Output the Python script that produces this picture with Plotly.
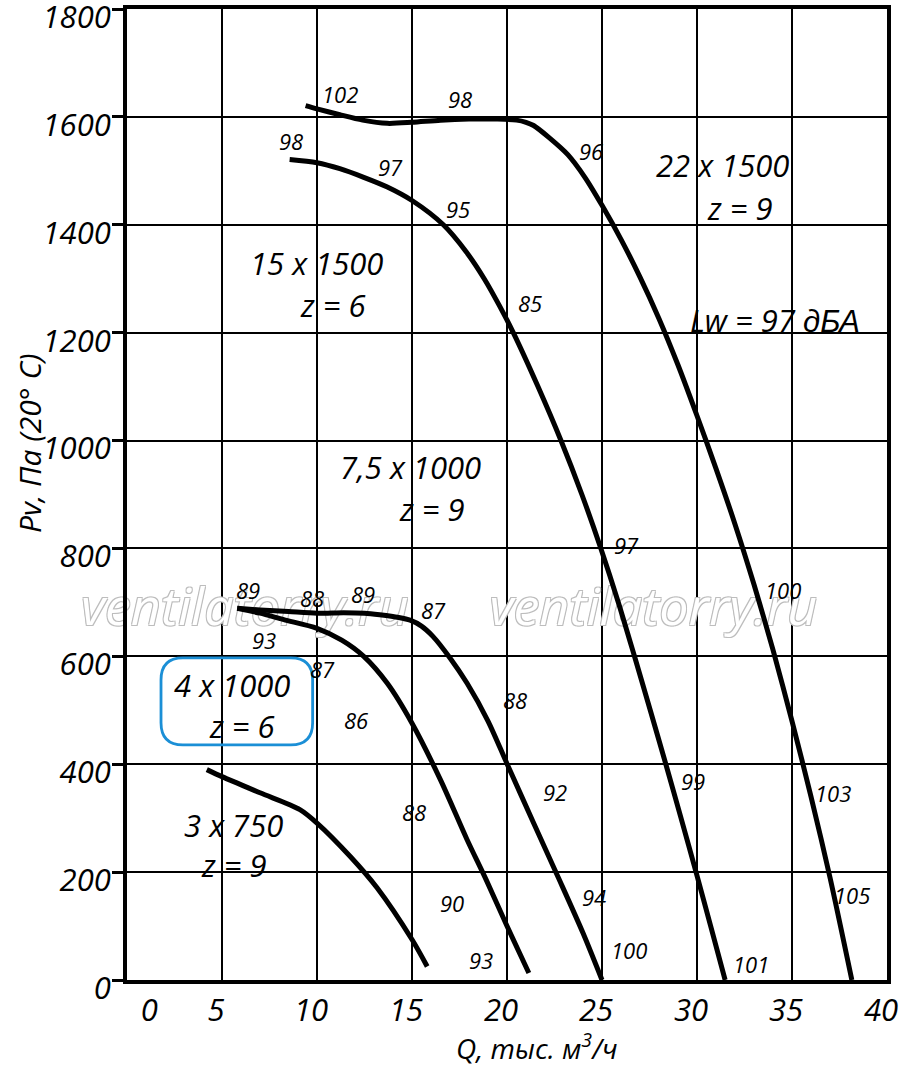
import plotly.graph_objects as go

# ---------------- data ----------------
Q_22x1500 = [9.4, 10.0, 11.2, 12.4, 13.7, 15.0, 16.5, 18.0, 19.5, 20.5, 21.0, 21.4, 22.2, 23.2, 24.1, 25.0,
             26.0, 27.0, 28.0, 29.0, 30.0, 31.0, 32.0, 33.0, 34.0, 35.0, 36.0, 37.0, 38.15]
P_22x1500 = [1621, 1615, 1604, 1594, 1588, 1590, 1594, 1596, 1596, 1594, 1590, 1584, 1562, 1530, 1488, 1436,
             1373, 1303, 1226, 1140, 1046, 948, 845, 733, 612, 480, 340, 190, 0]

Q_15x1500 = [8.56, 10.0, 11.2, 12.46, 13.7, 15.0, 16.65, 17.85, 18.8, 19.6, 20.33, 21.63, 22.84, 23.94, 24.94,
             25.86, 26.71, 27.54, 28.36, 29.16, 29.95, 30.72, 31.48]
P_15x1500 = [1521, 1515, 1504, 1488, 1470, 1445, 1400, 1350, 1300, 1250, 1200, 1100, 1000, 900, 800,
             700, 600, 500, 400, 300, 200, 100, 0]

Q_75x1000 = [5.8, 7.0, 8.5, 10.0, 11.4, 12.5, 13.3, 14.3, 14.9, 15.5, 16.1, 17.0, 17.9, 19.0, 20.0, 21.4,
             22.7, 24.0, 25.0]
P_75x1000 = [689, 686, 683, 680, 681, 680, 677, 672, 667, 656, 637, 597, 550, 480, 401, 291,
             190, 87, 0]

Q_4x1000 = [5.8, 7.0, 8.25, 10.0, 11.3, 12.46, 13.7, 15.0, 16.5, 17.9, 18.9, 20.0, 21.15]
P_4x1000 = [689, 680, 668, 652, 630, 600, 550, 476, 371, 260, 186, 100, 13]

Q_3x750 = [4.2, 5.0, 7.0, 9.1, 10.0, 11.75, 13.16, 15.0, 15.8]
P_3x750 = [390, 377, 347, 316, 291, 229, 171, 75, 25]

X_TICKS = [0, 5, 10, 15, 20, 25, 30, 35, 40]
X_TICK_LABELS = ["\u00a0" * 7 + "0", "5", "10", "15", "20", "25", "30", "35", "40"]
Y_TICKS = [0, 200, 400, 600, 800, 1000, 1200, 1400, 1600, 1800]
Y_TICK_LABELS = [str(v) for v in Y_TICKS]

# sound level labels along curves: (text, Q, P)
LEVELS = [
    ("102", 11.23, 1643), ("98", 17.5, 1634), ("98", 8.65, 1556), ("97", 13.86, 1508),
    ("96", 24.4, 1536), ("95", 17.44, 1430), ("85", 21.23, 1255), ("97", 26.3, 806),
    ("100", 34.5, 723), ("99", 29.8, 368), ("103", 37.18, 347), ("105", 38.17, 158),
    ("101", 32.86, 29), ("100", 26.4, 55), ("94", 24.6, 153), ("92", 22.54, 349),
    ("88", 20.4, 519), ("87", 16.12, 686), ("89", 6.38, 723), ("88", 9.75, 708),
    ("89", 12.44, 716), ("93", 7.23, 630), ("87", 10.28, 576), ("86", 12.07, 482),
    ("88", 15.12, 312), ("90", 17.12, 142), ("93", 18.65, 38),
]

# curve captions: (text, Q, P)
CAPTIONS = [
    ("22 x 1500", 31.33, 1510), ("z = 9", 32.28, 1432),
    ("15 x 1500", 9.96, 1330), ("z = 6", 10.86, 1251),
    ("Lw = 97 <span style='font-family:Liberation Sans'>дБА</span>", 34.1, 1223),
    ("7,5 x 1000", 14.9, 951), ("z = 9", 16.07, 873),
    ("4 x 1000", 5.54, 547), ("z = 6", 6.07, 470),
    ("3 x 750", 5.6, 288), ("z = 9", 5.65, 214),
]

FONT = "Open Sans"

fig = go.Figure()

# watermark (drawn under curves)
fig.add_trace(go.Scatter(
    x=[6.2, 27.7], y=[682, 682], mode="text", text=["ventilatorry.ru", "ventilatorry.ru"],
    textposition="middle center", cliponaxis=False,
    textfont=dict(family=FONT, size=52, style="italic", color="white",
                  shadow="1px 1px 0 #bdbdbd, -1px -1px 0 #bdbdbd, 1px -1px 0 #bdbdbd, -1px 1px 0 #bdbdbd"),
    hoverinfo="skip", showlegend=False))

for qs, ps in [(Q_22x1500, P_22x1500), (Q_15x1500, P_15x1500), (Q_75x1000, P_75x1000),
               (Q_4x1000, P_4x1000), (Q_3x750, P_3x750)]:
    fig.add_trace(go.Scatter(x=qs, y=ps, mode="lines",
                             line=dict(color="black", width=5, shape="spline", smoothing=0.8),
                             hoverinfo="skip", showlegend=False))

annotations = []
for t, q, p in LEVELS:
    annotations.append(dict(x=q, y=p, xref="x", yref="y", text=t, showarrow=False,
                            font=dict(family=FONT, size=22, style="italic", color="black")))
for t, q, p in CAPTIONS:
    annotations.append(dict(x=q, y=p, xref="x", yref="y", text=t, showarrow=False,
                            font=dict(family=FONT, size=31, style="italic", color="black")))

# axis titles
annotations.append(dict(x=21.6, y=-0.068, xref="x", yref="paper", text="Q, тыс. м<sup>3</sup>/ч",
                        showarrow=False, yanchor="middle",
                        font=dict(family=FONT, size=28, style="italic", color="black")))
annotations.append(dict(x=-0.128, y=995, xref="paper", yref="y", text="Pv, Па (20° C)",
                        showarrow=False, textangle=-90, xanchor="center", yanchor="middle",
                        font=dict(family=FONT, size=30, style="italic", color="black")))

# rounded blue box around "4 x 1000 / z = 6"
x0, x1, y0, y1 = 1.79, 9.77, 436, 597
rx, ry = 1.15, 41
path = (f"M {x0+rx},{y1} L {x1-rx},{y1} Q {x1},{y1} {x1},{y1-ry} L {x1},{y0+ry} "
        f"Q {x1},{y0} {x1-rx},{y0} L {x0+rx},{y0} Q {x0},{y0} {x0},{y0+ry} "
        f"L {x0},{y1-ry} Q {x0},{y1} {x0+rx},{y1} Z")
shapes = [dict(type="path", path=path, xref="x", yref="y",
               line=dict(color="#1b8fd6", width=2.8), fillcolor="rgba(0,0,0,0)")]

fig.update_layout(
    width=900, height=1067,
    margin=dict(l=127, r=13, t=8.5, b=86.5, autoexpand=False),
    paper_bgcolor="white", plot_bgcolor="white",
    showlegend=False,
    annotations=annotations,
    shapes=shapes,
    xaxis=dict(range=[0, 40], tickvals=X_TICKS, ticktext=X_TICK_LABELS, automargin=False,
               showgrid=True, gridcolor="black", gridwidth=2,
               showline=True, linecolor="black", linewidth=4, mirror=True,
               zeroline=False, ticks="", ticklabelshift=-6, ticklabeloverflow="allow",
               tickfont=dict(family=FONT, size=31, style="italic", color="black")),
    yaxis=dict(range=[0, 1800], tickvals=Y_TICKS, ticktext=Y_TICK_LABELS, automargin=False,
               showgrid=True, gridcolor="black", gridwidth=2,
               showline=True, linecolor="black", linewidth=4, mirror=True,
               zeroline=False, ticks="outside", ticklen=11, tickwidth=2.5, tickcolor="black",
               ticklabelshift=8, ticklabelstandoff=-5, ticklabeloverflow="allow",
               tickfont=dict(family=FONT, size=31, style="italic", color="black")),
)

fig.write_html("out.html", config={"displayModeBar": False},
               post_script="document.body.style.margin='0';document.body.style.padding='0';")
